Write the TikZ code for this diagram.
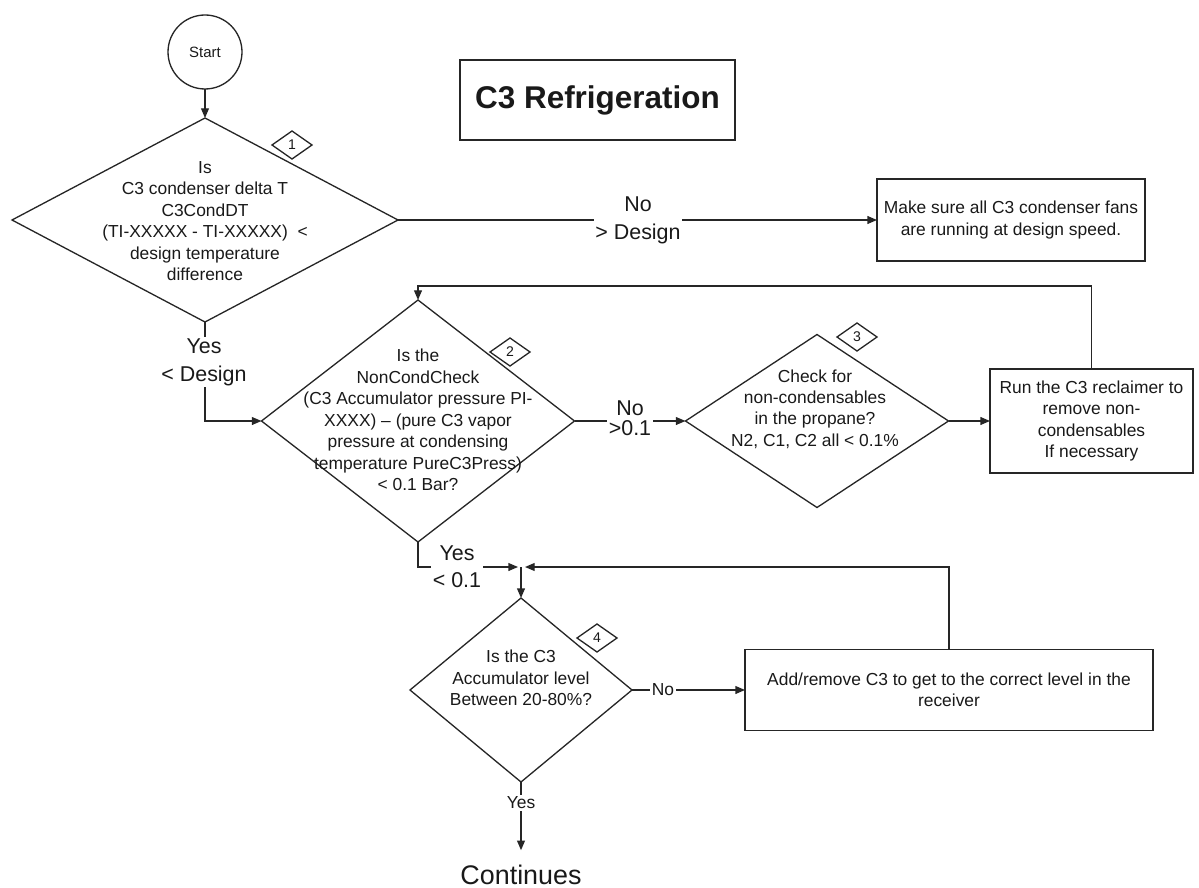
\documentclass[tikz,border=0pt]{standalone}
\usepackage{fontspec}
\setmainfont{Liberation Sans}
\usetikzlibrary{shapes.geometric,arrows.meta}
\begin{document}
\begin{tikzpicture}[x=0.02cm,y=-0.02cm,
  line width=0.75pt, draw=black!85,
  every node/.style={text=black!90, inner sep=0pt, outer sep=0pt},
  dfont/.style={font=\fontsize{9.9}{12.2}\selectfont},
  dia/.style={draw, shape=diamond, inner sep=0pt, outer sep=0pt},
  txt/.style={align=center, dfont},
  box/.style={draw, rectangle, align=center, dfont},
  badge/.style={draw, shape=diamond, minimum width=40*0.02cm, minimum height=28*0.02cm, font=\fontsize{8}{9}\selectfont},
  lbl/.style={fill=white, align=center, inner sep=1pt, font=\fontsize{12.2}{16}\selectfont},
  lbls/.style={fill=white, align=center, inner sep=1pt, font=\fontsize{9.9}{11}\selectfont},
  arr/.style={-{Triangle[length=5.5pt,width=4.5pt]}}
]
\useasboundingbox (0,0) rectangle (1199,888);

% nodes
\node[draw, circle, minimum size=74*0.02cm, font=\fontsize{8.5}{10}\selectfont] (start) at (205,52) {Start};
\node[draw, minimum width=275*0.02cm, minimum height=80*0.02cm, font=\bfseries\fontsize{17.9}{21}\selectfont] (title) at (597.5,100) {C3 Refrigeration};

\node[dia, minimum width=386*0.02cm, minimum height=204*0.02cm] (d1) at (205,220) {};
\node[txt] (d1t) at (205,221) {Is\\C3 condenser delta T\\C3CondDT\\(TI-XXXXX - TI-XXXXX)\ \ <\\design temperature\\difference};
\node[badge] (b1) at (292,145) {1};

\node[box, minimum width=268*0.02cm, minimum height=82*0.02cm] (box1) at (1011,220) {Make sure all C3 condenser fans\\are running at design speed.};

\node[dia, minimum width=313*0.02cm, minimum height=242*0.02cm] (d2) at (418,421) {};
\node[txt] (d2t) at (418,420) {Is the\\NonCondCheck\\(C3 Accumulator pressure PI-\\XXXX) – (pure C3 vapor\\pressure at condensing\\temperature PureC3Press)\\< 0.1 Bar?};
\node[badge] (b2) at (510,352) {2};

\node[dia, minimum width=263*0.02cm, minimum height=173*0.02cm] (d3) at (817,421) {};
\node[txt] (d3t) at (815,409) {Check for\\non-condensables\\in the propane?\\N2, C1, C2 all < 0.1\%};
\node[badge] (b3) at (857,337) {3};

\node[box, minimum width=203*0.02cm, minimum height=104*0.02cm] (box3) at (1091.5,421) {Run the C3 reclaimer to\\remove non-\\condensables\\If necessary};

\node[dia, minimum width=222*0.02cm, minimum height=184*0.02cm] (d4) at (521,690) {};
\node[txt] (d4t) at (521,678) {Is the C3\\Accumulator level\\Between 20-80\%?};
\node[badge] (b4) at (597,638) {4};

\node[box, minimum width=408*0.02cm, minimum height=81*0.02cm] (box4) at (949,690) {Add/remove C3 to get to the correct level in the\\receiver};

\node[inner ysep=8.5pt, font=\fontsize{15.3}{18}\selectfont] (cont) at (521,875) {Continues};

% helper coordinates
\coordinate (loopA) at (1091.5,286);
\coordinate (jl) at (518,567);
\coordinate (jr) at (525,567);
\coordinate (junc) at (521,567);

% connectors
\draw[arr] (start) -- (d1);
\draw[arr] (d1.east) -- (d1.east -| box1.west);
\draw[arr] (d1.south) |- (d2.west);
\draw[arr] (d2.east) -- (d3.west);
\draw[arr] (d3.east) -- (d3.east -| box3.west);
\draw[arr] (box3.north) -- (loopA) -| (d2.north);
\draw[arr] (d2.south) |- (jl);
\draw[arr] (box4.north) |- (jr);
\draw[arr] (junc) -- (d4.north);
\draw[arr] (d4.east) -- (d4.east -| box4.west);
\draw[arr] (d4.south) -- (cont.north);

% labels
\node[lbl] (lno1) at (638,220) {No\\> Design};
\node[lbl] (lyes1) at (204,362) {Yes\\< Design};
\node[lbl, font=\fontsize{12.2}{11.3}\selectfont] (lno2) at (630,418) {No\\>0.1};
\node[lbl, font=\fontsize{12.2}{15.3}\selectfont] (lyes2) at (457,567) {Yes\\< 0.1};
\node[lbls] (lno4) at (663,690) {No};
\node[lbls] (lyes4) at (521,803) {Yes};
\end{tikzpicture}
\end{document}
